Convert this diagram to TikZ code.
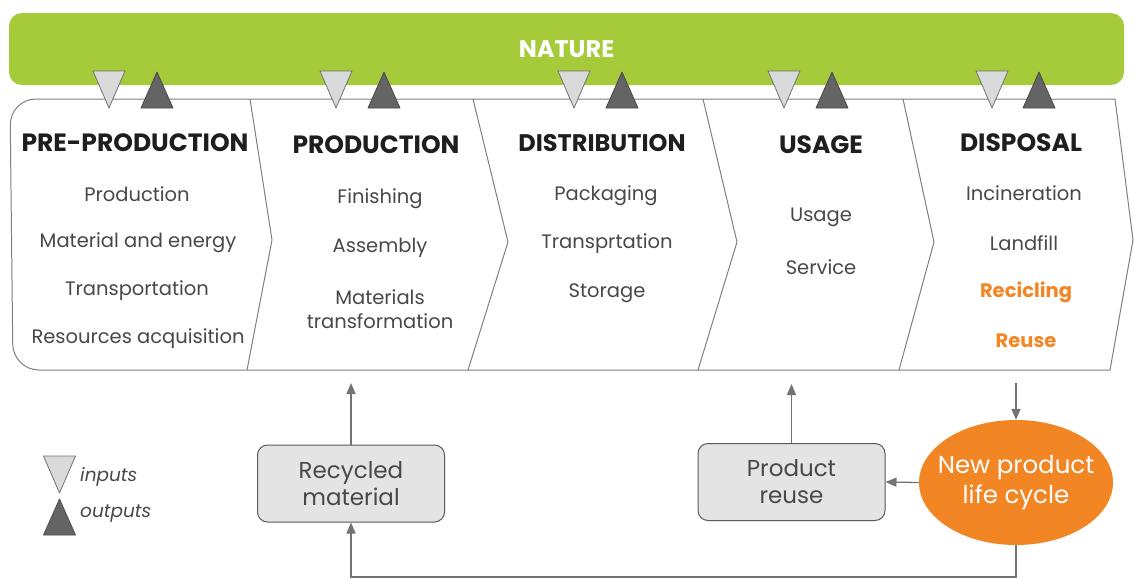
\documentclass[tikz,border=0pt]{standalone}
\usepackage{fontspec}
\setmainfont{Poppins}
\usetikzlibrary{arrows.meta,shapes.geometric}

\definecolor{naturegreen}{RGB}{165,203,58}
\definecolor{lcorange}{RGB}{242,134,37}
\definecolor{linegray}{RGB}{128,128,128}
\definecolor{conngray}{RGB}{115,115,115}
\definecolor{intrifill}{RGB}{218,218,218}
\definecolor{outtrifill}{RGB}{100,100,100}
\definecolor{boxfill}{RGB}{228,228,228}
\definecolor{itemgray}{RGB}{72,72,72}
\definecolor{headgray}{RGB}{30,30,30}

\tikzset{
  bandline/.style={draw=linegray, line width=1pt, line join=round},
  conn/.style={draw=conngray, line width=1.3pt},
  arrowconn/.style={conn, -{Triangle[length=11pt,width=9pt]}},
  heading/.style={font=\fontsize{25}{30}\selectfont\bfseries, text=headgray, inner sep=0pt},
  item/.style={font=\fontsize{19.5}{24}\selectfont, text=itemgray, inner sep=0pt, align=center},
  itemhot/.style={font=\fontsize{19.5}{24}\selectfont\bfseries, text=lcorange, inner sep=0pt},
  legendtext/.style={font=\fontsize{18.5}{20}\selectfont\itshape, text=itemgray, inner sep=0pt, anchor=west},
  greybox/.style={draw=black!65, line width=1pt, fill=boxfill, rounded corners=10pt,
    minimum width=187pt, minimum height=77pt, align=center,
    font=\fontsize{23}{27}\selectfont, text=itemgray},
  lifecycle/.style={ellipse, fill=lcorange, minimum width=194pt, minimum height=125pt, inner sep=0pt},
  lifecycletext/.style={align=center, inner sep=0pt, font=\fontsize{24.5}{30}\selectfont, text=white},
  inmark/.pic={\filldraw[fill=intrifill, draw=black!55, line width=0.8pt, line join=round]
    (-16,0) -- (16,0) -- (0,37) -- cycle;},
  outmark/.pic={\filldraw[fill=outtrifill, draw=black!70, line width=0.8pt, line join=round]
    (-16,36) -- (16,36) -- (0,0) -- cycle;},
}

\begin{document}
\begin{tikzpicture}[x=1pt,y=-1pt]
\useasboundingbox (0,0) rectangle (1134,579);
\fill[white] (0,0) rectangle (1134,579);

% the surrounding nature band
\node[fill=naturegreen, rounded corners=13pt, minimum width=1115pt, minimum height=72pt,
  text=white, font=\fontsize{24}{28}\selectfont\bfseries] (nature) at (566.5,49) {NATURE};

% life-cycle band with its chevron dividers
\draw[bandline] (600,99) [rounded corners=26pt] -- (10,99) -- (13,370) [sharp corners]
  -- (1110,370) -- (1133,240) -- (1115,99) -- cycle;
\draw[bandline] (250,99) -- (272,240) -- (247,370);
\draw[bandline] (473,99) -- (508,242) -- (468,370);
\draw[bandline] (703,99) -- (737,242) -- (698,370);
\draw[bandline] (903,99) -- (934,242) -- (899,370);

% inputs and outputs exchanged with nature
\foreach \xi/\xo in {109/157, 336/384, 574/622, 784/832, 992/1039} {
  \pic at (\xi,71) {inmark};
  \pic at (\xo,72) {outmark};
}

% stage headings
\node[heading] (hpre)  at (135,143) {PRE-PRODUCTION};
\node[heading] (hprod) at (376,145) {PRODUCTION};
\node[heading, font=\fontsize{24}{30}\selectfont\bfseries] (hdist) at (602,143) {DISTRIBUTION};
\node[heading] (huse)  at (821,145) {USAGE};
\node[heading] (hdisp) at (1021,143) {DISPOSAL};

% pre-production activities
\node[item] (pre1) at (137,194) {Production};
\node[item] (pre2) at (138,243) {Material and energy};
\node[item] (pre3) at (137,291) {Transportation};
\node[item] (pre4) at (138,339) {Resources acquisition};

% production activities
\node[item] (prod1) at (380,199) {Finishing};
\node[item] (prod2) at (380,248) {Assembly};
\node[item] (prod3) at (380,309) {Materials\\transformation};

% distribution activities
\node[item] (dist1) at (606,196) {Packaging};
\node[item] (dist2) at (607,244) {Transprtation};
\node[item] (dist3) at (607,293) {Storage};

% usage activities
\node[item] (use1) at (821,217) {Usage};
\node[item] (use2) at (821,267) {Service};

% disposal activities
\node[item] (disp1) at (1024,193) {Incineration};
\node[item] (disp2) at (1024,243) {Landfill};
\node[itemhot] (disp3) at (1026,292) {Recicling};
\node[itemhot] (disp4) at (1026,341) {Reuse};

% legend
\pic at (59.5,456) {inmark};
\pic at (59.5,499) {outmark};
\node[legendtext] (lin)  at (80,477) {inputs};
\node[legendtext] (lout) at (80,514) {outputs};

% recovery loop
\node[greybox] (recyc) at (351,483.5) {Recycled\\material};
\node[greybox] (reuse) at (791.5,482) {Product\\reuse};
\node[lifecycle] (newlc) at (1016,482.5) {};
\node[lifecycletext] (newlctext) at (newlc.center) {New product\\life cycle};

\coordinate (prodin)  at (351,383);
\coordinate (usein)   at (791.5,384);
\coordinate (dispout) at (1016,383);
\coordinate (loopr)   at (1016,577);
\coordinate (loopl)   at (351,577);

\draw[arrowconn] (recyc.north) -- (prodin);
\draw[arrowconn] (reuse.north) -- (usein);
\draw[arrowconn] (dispout) -- (newlc.north);
\draw[arrowconn] (newlc.west) -- (reuse.east);
\draw[arrowconn] (newlc.south) -- (loopr) -- (loopl) -- (recyc.south);
\end{tikzpicture}
\end{document}
